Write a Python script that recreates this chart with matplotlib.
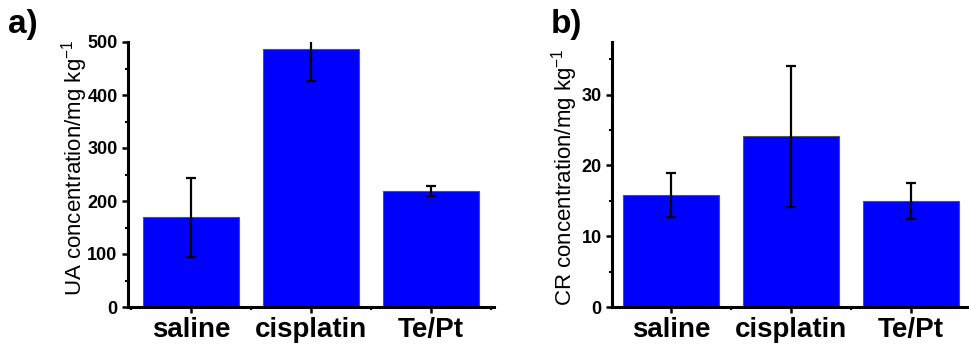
import numpy as np
import matplotlib
matplotlib.use('Agg')
import matplotlib.pyplot as plt
from matplotlib.ticker import MultipleLocator, FixedLocator


GROUPS = ['saline', 'cisplatin', 'Te/Pt']
UA_MEAN = [169, 487, 219]
UA_ERR = [75, 60, 10]
CR_MEAN = [15.85, 24.1, 15.0]
CR_ERR = [3.1, 10.0, 2.55]

BAR_COLOR = '#0000ff'

plt.rcParams['font.family'] = ['Liberation Sans', 'DejaVu Sans']


def style_axis(ax, xlim, ylim, major, minor):
	'Origin-like look: thick left/bottom spines, outward ticks.'
	for side in ('top', 'right'):
		ax.spines[side].set_visible(False)
	for side in ('left', 'bottom'):
		ax.spines[side].set_linewidth(2.2)
	ax.set_xlim(*xlim)
	ax.set_ylim(*ylim)
	ax.yaxis.set_major_locator(MultipleLocator(major))
	ax.yaxis.set_minor_locator(MultipleLocator(minor))
	ax.xaxis.set_minor_locator(FixedLocator([0.5, 1.5, 2.5, 3.5]))
	ax.tick_params(which='major', direction='out', length=4, width=1.8, labelsize=13)
	ax.tick_params(which='minor', direction='out', length=2.5, width=1.5)
	ax.tick_params(axis='x', which='major', labelsize=20, pad=3)
	for lab in ax.get_xticklabels() + ax.get_yticklabels():
		lab.set_fontweight('bold')


def draw_panel(ax, means, errs, ylabel, label_xy):
	x = np.arange(1, len(GROUPS) + 1)
	ax.bar(x, means, width=0.8, color=BAR_COLOR, edgecolor='#555555', linewidth=0.8, zorder=2)
	ax.errorbar(x, means, yerr=errs, fmt='none', ecolor='black', elinewidth=1.6,
		capsize=3.5, capthick=1.6, zorder=3)
	ax.set_xticks(x)
	ax.set_xticklabels(GROUPS)
	ax.set_ylabel(ylabel, fontsize=16)
	ax.yaxis.set_label_coords(*label_xy)


fig = plt.figure(figsize=(9.69, 3.49), dpi=100)
ax1 = fig.add_axes([128 / 969, 1 - 307 / 349, 366 / 969, 265 / 349])
ax2 = fig.add_axes([612 / 969, 1 - 307 / 349, 357 / 969, 265.5 / 349])

draw_panel(ax1, UA_MEAN, UA_ERR, 'UA concentration/mg kg$^{\\mathregular{-1}}$', (-0.105, 0.525))
style_axis(ax1, (0.475, 3.525), (0, 500), 100, 50)

draw_panel(ax2, CR_MEAN, CR_ERR, 'CR concentration/mg kg$^{\\mathregular{-1}}$', (-0.09, 0.49))
style_axis(ax2, (0.508, 3.483), (0, 37.5), 10, 5)

fig.text(8 / 969, 1 - 25 / 349, 'a)', fontsize=24, fontweight='bold', va='center', ha='left')
fig.text(551 / 969, 1 - 25 / 349, 'b)', fontsize=24, fontweight='bold', va='center', ha='left')

fig.savefig('out.png', dpi=100)
